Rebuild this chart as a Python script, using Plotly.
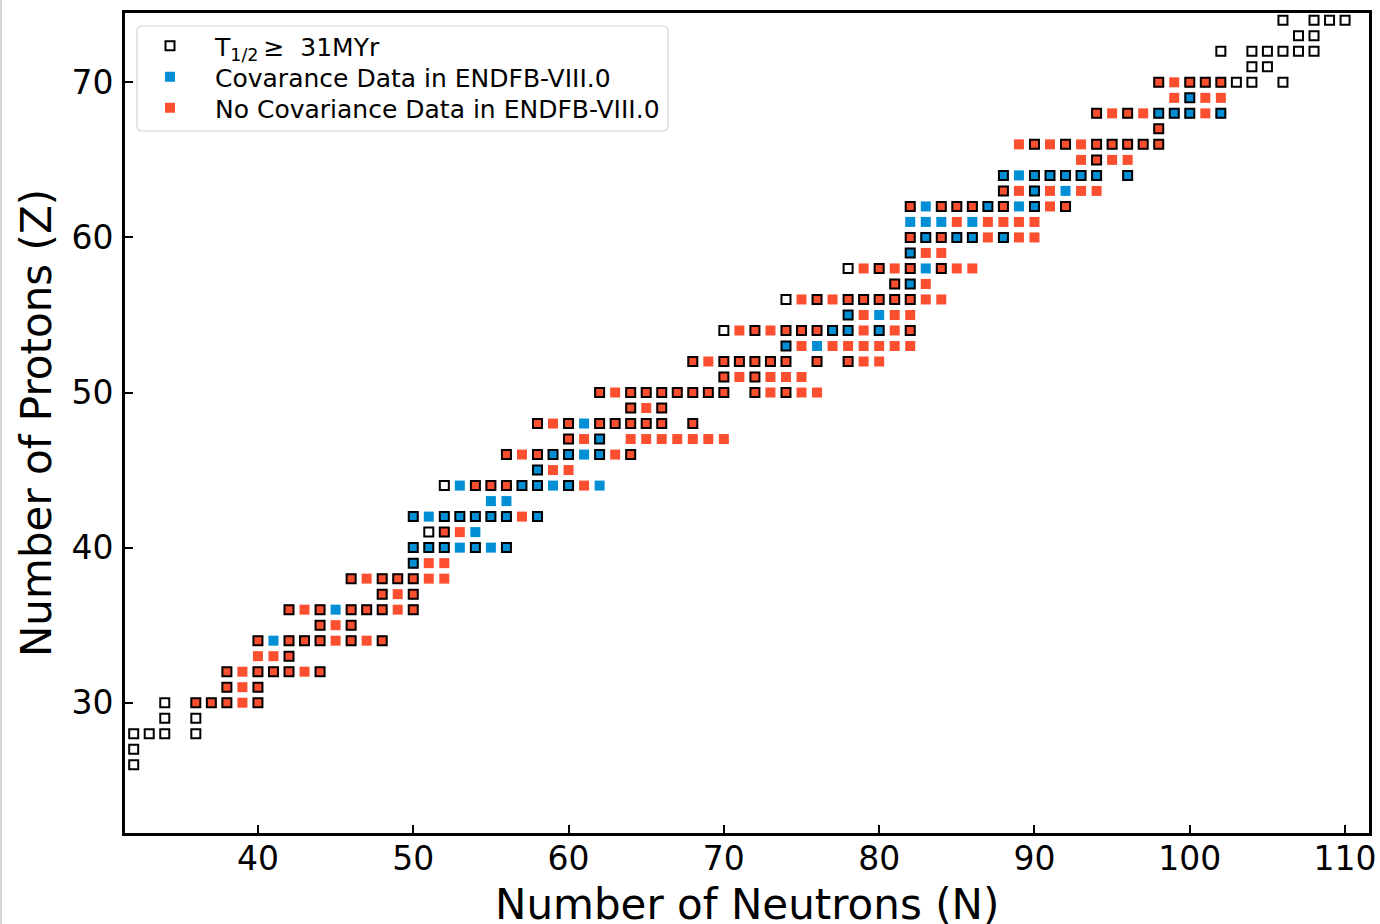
import plotly.graph_objects as go

# ---- data: (Z, [N ...]) rows for each category ----
long_lived_rows = [
    (26, [32]), (27, [32]), (28, [32, 33, 34, 36]), (29, [34, 36]),
    (30, [34, 36, 37, 38, 40]), (31, [38, 40]), (32, [38, 40, 41, 42, 44]),
    (33, [42]), (34, [40, 42, 43, 44, 46, 48]), (35, [44, 46]),
    (36, [42, 44, 46, 47, 48, 50]), (37, [48, 50]), (38, [46, 48, 49, 50]),
    (39, [50]), (40, [50, 51, 52, 54, 56]), (41, [51, 52]),
    (42, [50, 52, 53, 54, 55, 56, 58]), (44, [52, 54, 55, 56, 57, 58, 60]),
    (45, [58]), (46, [56, 58, 59, 60, 62, 64]), (47, [60, 62]),
    (48, [58, 60, 62, 63, 64, 65, 66, 68]), (49, [64, 66]),
    (50, [62, 64, 65, 66, 67, 68, 69, 70, 72, 74]), (51, [70, 72]),
    (52, [68, 70, 71, 72, 73, 74, 76, 78]), (53, [74]),
    (54, [70, 72, 74, 75, 76, 77, 78, 80, 82]), (55, [78]),
    (56, [74, 76, 78, 79, 80, 81, 82]), (57, [81, 82]), (58, [78, 80, 82, 84]),
    (59, [82]), (60, [82, 83, 84, 85, 86, 88]),
    (62, [82, 84, 85, 86, 87, 88, 90, 92]), (63, [88, 90]),
    (64, [88, 90, 91, 92, 93, 94, 96]), (65, [94]),
    (66, [90, 92, 94, 95, 96, 97, 98]), (67, [98]),
    (68, [94, 96, 98, 99, 100, 102]), (69, [100]),
    (70, [98, 100, 101, 102, 103, 104, 106]), (71, [104, 105]),
    (72, [102, 104, 105, 106, 107, 108]), (73, [107, 108]),
    (74, [106, 108, 109, 110]),
]

covariance_rows = [
    (34, [41]), (36, [45]), (39, [50]), (40, [50, 51, 52, 53, 54, 55, 56]),
    (41, [54]), (42, [50, 51, 52, 53, 54, 55, 56, 58]), (43, [55, 56]),
    (44, [53, 57, 58, 59, 60, 62]), (45, [58]), (46, [59, 60, 61, 62]),
    (47, [62]), (48, [61]), (53, [74, 76]), (54, [77, 78, 80]), (55, [78, 80]),
    (57, [82]), (58, [83]), (59, [82]), (60, [83, 85, 86, 88]),
    (61, [82, 83, 84, 86]), (62, [83, 87, 89, 90]), (63, [90, 92]),
    (64, [88, 89, 90, 91, 92, 93, 94, 96]), (68, [98, 99, 100, 102]), (69, [100]),
]

no_covariance_rows = [
    (30, [36, 37, 38, 39, 40]), (31, [38, 39, 40]),
    (32, [38, 39, 40, 41, 42, 43, 44]), (33, [40, 41, 42]),
    (34, [40, 42, 43, 44, 45, 46, 47, 48]), (35, [44, 45, 46]),
    (36, [42, 43, 44, 46, 47, 48, 49, 50]), (37, [48, 49, 50]),
    (38, [46, 47, 48, 49, 50, 51, 52]), (39, [51, 52]), (41, [52, 53]),
    (42, [57]), (44, [54, 55, 56, 61]), (45, [59, 60]),
    (46, [56, 57, 58, 63, 64]), (47, [60, 61, 64, 65, 66, 67, 68, 69, 70]),
    (48, [58, 59, 60, 62, 63, 64, 65, 66, 68]), (49, [64, 65, 66]),
    (50, [62, 63, 64, 65, 66, 67, 68, 69, 70, 72, 73, 74, 75, 76]),
    (51, [70, 71, 72, 73, 74, 75]),
    (52, [68, 69, 70, 71, 72, 73, 74, 76, 78, 79, 80]),
    (53, [75, 77, 78, 79, 80, 81, 82]),
    (54, [71, 72, 73, 74, 75, 76, 79, 81, 82]), (55, [79, 81, 82]),
    (56, [75, 76, 77, 78, 79, 80, 81, 82, 83, 84]), (57, [81, 83]),
    (58, [79, 80, 81, 82, 84, 85, 86]), (59, [83, 84]),
    (60, [82, 84, 87, 89, 90]), (61, [85, 87, 88, 89, 90]),
    (62, [82, 84, 85, 86, 88, 91, 92]), (63, [88, 89, 91, 93, 94]),
    (65, [93, 94, 95, 96]), (66, [89, 90, 91, 92, 93, 94, 95, 96, 97, 98]),
    (67, [98]), (68, [94, 95, 96, 97, 101]), (69, [99, 101, 102]),
    (70, [98, 99, 100, 101, 102]),
]

x_ticks = [40, 50, 60, 70, 80, 90, 100, 110]
y_ticks = [30, 40, 50, 60, 70]

BLUE = "#008fd5"
RED = "#fc4f30"
FONT = "DejaVu Sans"

W, H = 1380, 924
ML, MR, MT, MB = 125, 11, 13, 91
PW, PH = W - ML - MR, H - MT - MB


def px(x):
    return (x - ML) / PW


def py(y):
    return 1 - (y - MT) / PH


def expand(rows):
    ns, zs = [], []
    for z, n_list in rows:
        for n in n_list:
            ns.append(n)
            zs.append(z)
    return ns, zs


cov_n, cov_z = expand(covariance_rows)
noc_n, noc_z = expand(no_covariance_rows)
ll_n, ll_z = expand(long_lived_rows)

fig = go.Figure()
fig.add_trace(go.Scatter(
    x=cov_n, y=cov_z, mode="markers", name="Covarance Data in ENDFB-VIII.0",
    marker=dict(symbol="square", size=10, color=BLUE, line=dict(width=0)),
    legend="legend2",
))
fig.add_trace(go.Scatter(
    x=noc_n, y=noc_z, mode="markers", name="No Covariance Data in ENDFB-VIII.0",
    marker=dict(symbol="square", size=10, color=RED, line=dict(width=0)),
    legend="legend3",
))
fig.add_trace(go.Scatter(
    x=ll_n, y=ll_z, mode="markers",
    name="T<sub>1/2</sub>\u2009\u2265\u00a0 31MYr",
    marker=dict(symbol="square", size=9, color="rgba(0,0,0,0)",
                line=dict(width=2, color="black")),
    legend="legend",
))

axis_common = dict(
    showline=True, linecolor="black", linewidth=3, mirror=True,
    ticks="inside", ticklen=8, tickwidth=2, tickcolor="black",
    showgrid=False, zeroline=False, automargin=False,
    tickfont=dict(family=FONT, size=33, color="black"),
)


def legend_at(ycenter):
    return dict(x=px(125), y=py(ycenter), xanchor="left", yanchor="middle",
                bgcolor="rgba(0,0,0,0)", borderwidth=0,
                font=dict(family=FONT, size=25, color="black"),
                itemwidth=80)


# rounded legend frame (matplotlib-like fancy box)
bx0, bx1, by0, by1, r = 137, 668, 26, 131, 5
frame_path = (
    f"M {px(bx0 + r)},{py(by0)} L {px(bx1 - r)},{py(by0)} "
    f"Q {px(bx1)},{py(by0)} {px(bx1)},{py(by0 + r)} "
    f"L {px(bx1)},{py(by1 - r)} Q {px(bx1)},{py(by1)} {px(bx1 - r)},{py(by1)} "
    f"L {px(bx0 + r)},{py(by1)} Q {px(bx0)},{py(by1)} {px(bx0)},{py(by1 - r)} "
    f"L {px(bx0)},{py(by0 + r)} Q {px(bx0)},{py(by0)} {px(bx0 + r)},{py(by0)} Z"
)

fig.update_layout(
    width=W, height=H,
    margin=dict(l=ML, r=MR, t=MT, b=MB),
    paper_bgcolor="white", plot_bgcolor="white",
    font=dict(family=FONT, color="black"),
    xaxis=dict(range=[31.44, 111.54], tickvals=x_ticks, ticklabelstandoff=-6,
               **axis_common),
    yaxis=dict(range=[21.6, 74.47], tickvals=y_ticks, ticklabelstandoff=2,
               title=dict(text="Number of Protons (Z)",
                          font=dict(family=FONT, size=42), standoff=7),
               **axis_common),
    legend=legend_at(46),
    legend2=legend_at(77),
    legend3=legend_at(108),
    showlegend=True,
    annotations=[dict(text="Number of Neutrons (N)", xref="paper", yref="paper",
                      x=0.5, y=py(904), xanchor="center", yanchor="middle",
                      showarrow=False, font=dict(family=FONT, size=42, color="black"))],
    shapes=[
        dict(type="path", xref="paper", yref="paper", path=frame_path,
             fillcolor="white", line=dict(color="#d2d2d2", width=1.2),
             layer="above"),
        dict(type="line", xref="paper", yref="paper",
             x0=px(1), x1=px(1), y0=py(H), y1=py(0),
             line=dict(color="#d4d4d4", width=2)),
    ],
)

fig.write_html("out.html", config={"displayModeBar": False},
               post_script="document.body.style.margin='0';")
